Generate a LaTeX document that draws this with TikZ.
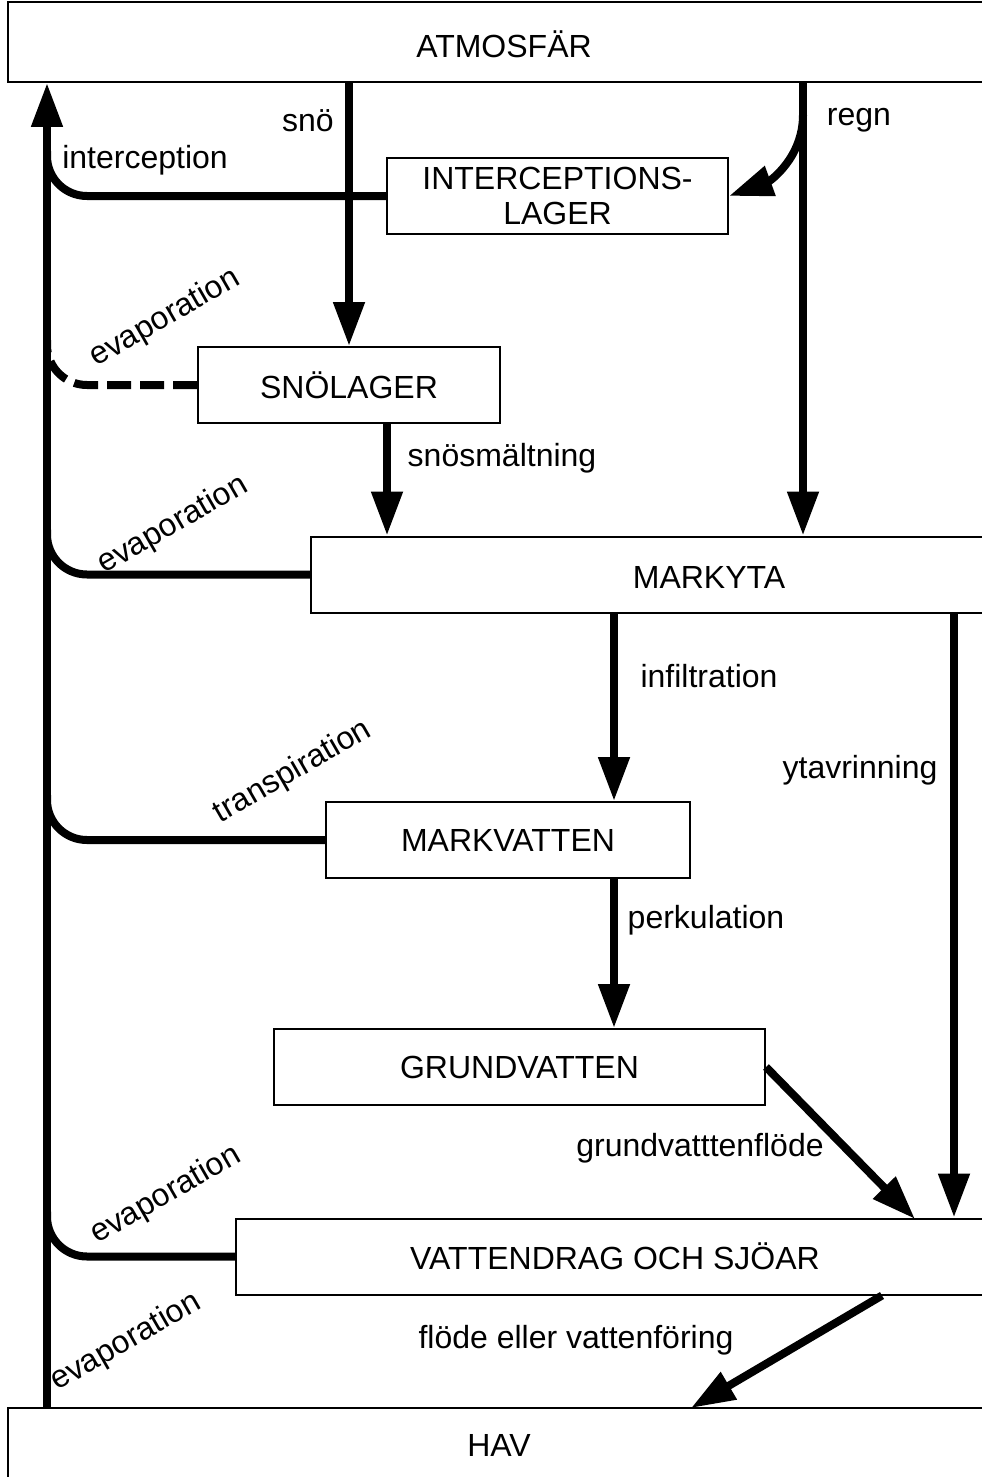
\documentclass[tikz,border=0pt]{standalone}
\usepackage{fontspec}
\setmainfont{Liberation Sans}
\usetikzlibrary{arrows.meta}

\begin{document}
\begin{tikzpicture}[x=0.5pt, y=-0.5pt,
        font=\fontsize{16}{17.5}\selectfont,
        box/.style={draw, line width=1pt, inner sep=0pt, minimum height=38pt,
                    align=center},
        flow/.style={line width=4pt, -{Triangle[length=22pt, width=15pt]}},
        branch/.style={line width=4pt, rounded corners=20pt},
        lbl/.style={inner sep=0pt},
        slant/.style={inner sep=0pt, rotate=30},
      ]
      \useasboundingbox (0,0) rectangle (981,1477);
      % boxes
      \node[box, minimum width=501pt, minimum height=40pt] (atm) at (509,42) {};
      \node[lbl] (atmtext) at (504,44) {ATMOSFÄR};
      \node[box, minimum width=170.5pt] (intlager) at (557.5,196)
            {INTERCEPTIONS-\\LAGER};
      \node[box, minimum width=151pt] (snolager) at (349,385) {SNÖLAGER};
      \node[box, minimum width=350pt] (markyta) at (661,574.5) {};
      \node[lbl] (markytatext) at (709,577) {MARKYTA};
      \node[box, minimum width=182pt] (markvatten) at (508,840) {MARKVATTEN};
      \node[box, minimum width=245.5pt] (grund) at (519.5,1067) {GRUNDVATTEN};
      \node[box, minimum width=387.5pt] (vatten) at (623.5,1256.5) {};
      \node[lbl] (vattentext) at (615,1256) {VATTENDRAG OCH SJÖAR};
      \node[box, minimum width=501.5pt, minimum height=56pt] (hav) at (509.5,1464) {};
      \node[lbl] (havtext) at (499,1445) {HAV};
      % x positions of the vertical flows
      \coordinate (up) at (47,0);
      \coordinate (regn) at (803,0);
      \coordinate (regnbend) at (803,115);
      \coordinate (smelt) at (387,0);
      \coordinate (inf) at (614,0);
      \coordinate (yt) at (954,0);
      \coordinate (gvin) at (915,1219);
      \coordinate (fl) at (882,0);
      \coordinate (havin) at (691,1408);
      % flows
      \draw[flow] (up |- hav.north) -- (up |- atm.south);
      \draw[flow] (snolager.north |- atm.south) -- (snolager.north);
      \draw[flow] (regn |- atm.south) -- (regn |- markyta.north);
      \draw[flow] (regnbend) to[out=-90, in=20] (intlager.east);
      \draw[flow] (smelt |- snolager.south) -- (smelt |- markyta.north);
      \draw[flow] (inf |- markyta.south) -- (inf |- markvatten.north);
      \draw[flow] (inf |- markvatten.south) -- (inf |- grund.north);
      \draw[flow] (yt |- markyta.south) -- (yt |- vatten.north);
      \draw[flow] (grund.east) -- (gvin);
      \draw[flow] (fl |- vatten.south) -- (havin);
      \draw[branch] (intlager.west) -- (intlager.west -| up) -- ++(0,-45);
      \draw[branch, dash pattern=on 12pt off 4.5pt] (snolager.west)
            -- (snolager.west -| up) -- ++(0,-45);
      \draw[branch] (markyta.west) -- (markyta.west -| up) -- ++(0,-45);
      \draw[branch] (markvatten.west) -- (markvatten.west -| up) -- ++(0,-45);
      \draw[branch] (vatten.west) -- (vatten.west -| up) -- ++(0,-45);
      % labels
      \node[lbl] (snolbl) at (308,121) {snö};
      \node[lbl] (regnlbl) at (859,120) {regn};
      \node[lbl] (intlbl) at (145,160) {interception};
      \node[lbl] (smeltlbl) at (502,458) {snösmältning};
      \node[lbl] (inflbl) at (709,676) {infiltration};
      \node[lbl] (ytlbl) at (860,770) {ytavrinning};
      \node[lbl] (perklbl) at (706,920) {perkulation};
      \node[lbl] (gvlbl) at (700,1148) {grundvatttenflöde};
      \node[lbl] (fllbl) at (576,1340) {flöde eller vattenföring};
      \node[slant] (evap1) at (165,318) {evaporation};
      \node[slant] (evap2) at (173,525) {evaporation};
      \node[slant] (translbl) at (293,772) {transpiration};
      \node[slant] (evap3) at (166,1195) {evaporation};
      \node[slant] (evap4) at (126,1342) {evaporation};
    \end{tikzpicture}
\end{document}
